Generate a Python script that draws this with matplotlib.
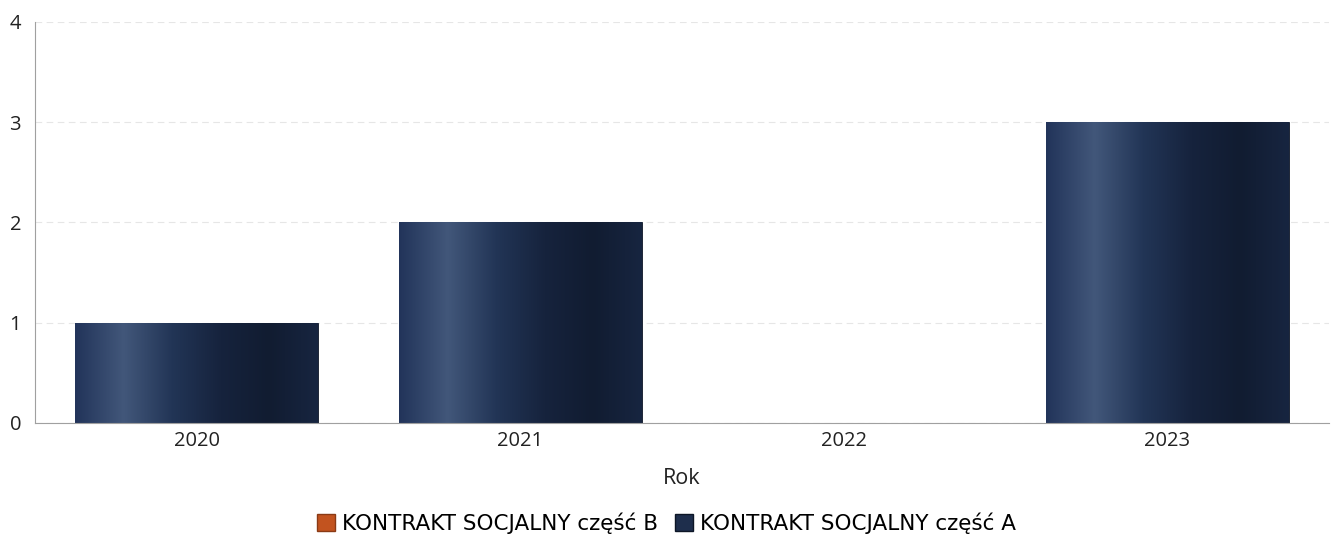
import matplotlib.pyplot as plt
import numpy as np
from matplotlib.colors import LinearSegmentedColormap
from matplotlib.patches import Patch

plt.rcParams['font.family'] = ['Open Sans', 'DejaVu Sans']

YEARS = ['2020', '2021', '2022', '2023']
PART_A = [1, 2, 0, 3]
PART_B = [0, 0, 0, 0]
LABEL_A = 'KONTRAKT SOCJALNY część A'
LABEL_B = 'KONTRAKT SOCJALNY część B'
COLOR_A = '#1e2e4c'
COLOR_B = '#c2531f'

# cylinder-like shading for the bars
shade = LinearSegmentedColormap.from_list(
    'shade', ['#22345a', '#42577a', '#223556', '#16233d', '#111c31', '#172540'])

fig = plt.figure(figsize=(13.33, 5.4), dpi=100)
ax = fig.add_axes([0.0263, 0.2167, 0.9707, 0.7426])

x = np.arange(len(YEARS))
ax.bar(x, PART_B, width=0.75, color=COLOR_B)
bars = ax.bar(x, PART_A, width=0.75, color=COLOR_A, edgecolor='#0d1626', linewidth=0.6)

grad = np.linspace(0, 1, 256).reshape(1, -1)
for b in bars:
    h = b.get_height()
    if h <= 0:
        continue
    x0 = b.get_x()
    im = ax.imshow(grad, cmap=shade, aspect='auto', extent=[x0, x0 + b.get_width(), 0, h],
                   zorder=b.get_zorder() + 0.1, interpolation='bicubic')
    im.set_clip_path(b)

ax.set_xlim(-0.5, 3.5)
ax.set_ylim(0, 4)
ax.set_xticks(x)
ax.set_xticklabels(YEARS)
ax.set_yticks([0, 1, 2, 3, 4])
ax.tick_params(axis='both', length=0, labelsize=14.5, colors='#222222')
ax.tick_params(axis='y', pad=10)
ax.tick_params(axis='x', pad=6)

ax.grid(axis='y', color='#e6e6e6', linestyle=(0, (6, 4)), linewidth=0.8)
ax.set_axisbelow(True)
for s in ['top', 'right']:
    ax.spines[s].set_visible(False)
ax.spines['left'].set_color('#a0a0a0')
ax.spines['bottom'].set_color('#a0a0a0')

ax.set_xlabel('Rok', fontsize=15.5, color='#222222', labelpad=12)

handles = [Patch(facecolor=COLOR_B, edgecolor='#8a3a15'), Patch(facecolor=COLOR_A, edgecolor='#0d1626')]
fig.legend(handles, [LABEL_B, LABEL_A], loc='center', bbox_to_anchor=(0.500, 0.031), ncol=2,
           frameon=False, prop={'family': 'DejaVu Sans', 'size': 15.5},
           handlelength=0.85, handleheight=0.85, handletextpad=0.3, columnspacing=0.8)

plt.savefig('out.png', dpi=100)
